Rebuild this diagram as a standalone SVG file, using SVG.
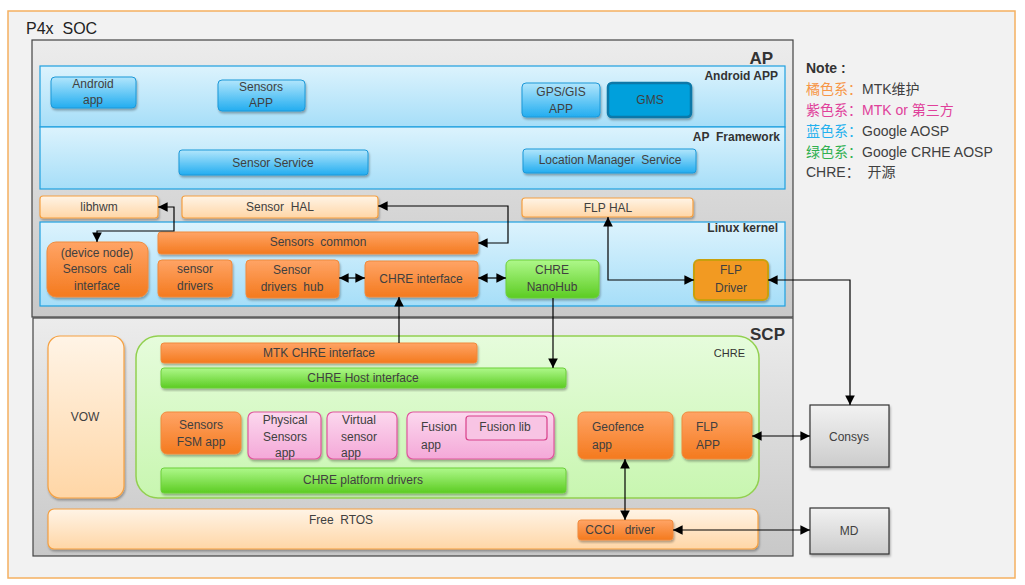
<svg xmlns="http://www.w3.org/2000/svg" width="1025" height="585" viewBox="0 0 1025 585" xml:space="preserve">
<defs>
<linearGradient id="gGray" x1="0" y1="0" x2="0" y2="1"><stop offset="0" stop-color="#ececec"/><stop offset="1" stop-color="#c8c8c8"/></linearGradient>
<linearGradient id="gBand" x1="0" y1="0" x2="0" y2="1"><stop offset="0" stop-color="#dcf3fd"/><stop offset="1" stop-color="#a6def8"/></linearGradient>
<linearGradient id="gBlue" x1="0" y1="0" x2="0" y2="1"><stop offset="0" stop-color="#b2e6fc"/><stop offset="1" stop-color="#22adf0"/></linearGradient>
<linearGradient id="gOr" x1="0" y1="0" x2="0" y2="1"><stop offset="0" stop-color="#ffa466"/><stop offset="1" stop-color="#f47a1e"/></linearGradient>
<linearGradient id="gLOr" x1="0" y1="0" x2="0" y2="1"><stop offset="0" stop-color="#fff4e6"/><stop offset="1" stop-color="#ffd6a6"/></linearGradient>
<linearGradient id="gGr" x1="0" y1="0" x2="0" y2="1"><stop offset="0" stop-color="#aef88a"/><stop offset="1" stop-color="#5ccc22"/></linearGradient>
<linearGradient id="gLGr" x1="0" y1="0" x2="0" y2="1"><stop offset="0" stop-color="#e6fcdc"/><stop offset="1" stop-color="#c8f6b0"/></linearGradient>
<linearGradient id="gPk" x1="0" y1="0" x2="0" y2="1"><stop offset="0" stop-color="#fcd8ee"/><stop offset="1" stop-color="#f4a8d8"/></linearGradient>
<linearGradient id="gBox" x1="0" y1="0" x2="0" y2="1"><stop offset="0" stop-color="#f2f2f2"/><stop offset="1" stop-color="#cccccc"/></linearGradient>
<filter id="sh" x="-10%" y="-10%" width="120%" height="130%"><feDropShadow dx="1" dy="2" stdDeviation="1.2" flood-color="#000" flood-opacity="0.3"/></filter>
<marker id="ah" viewBox="0 0 10 10" refX="10" refY="5" markerWidth="8" markerHeight="8" orient="auto-start-reverse"><path d="M0,0 L10,5 L0,10 z" fill="#000"/></marker>
<style>
text{font-family:"Liberation Sans","Noto Sans CJK SC",sans-serif;font-size:12px;fill:#404040;text-anchor:middle;white-space:pre}
.lbl{font-weight:bold;text-anchor:end;fill:#333}
.band{fill:url(#gBand);stroke:#1ea0e0;stroke-width:1.2}
.blue{fill:url(#gBlue);stroke:#1c98d8;stroke-width:1;filter:url(#sh)}
.or{fill:url(#gOr);stroke:#f08a3c;stroke-width:1;filter:url(#sh)}
.lor{fill:url(#gLOr);stroke:#f5a040;stroke-width:1.2;filter:url(#sh)}
.gr{fill:url(#gGr);stroke:#6ccf3a;stroke-width:1;filter:url(#sh)}
.pk{fill:url(#gPk);stroke:#e0559e;stroke-width:1.2;filter:url(#sh)}
.gray{fill:url(#gBox);stroke:#333;stroke-width:1.2;filter:url(#sh)}
.c{fill:none;stroke:#000;stroke-width:1.2}
.note{text-anchor:start;font-size:14px}
</style>
</defs>
<rect x="0" y="0" width="1025" height="585" fill="#fff"/>
<g id="soc"><rect x="8" y="11" width="1007" height="567" fill="#f2f2f2" stroke="#f5b060" stroke-width="1.5"/><text x="26" y="34" style="text-anchor:start;font-size:16px;fill:#222">P4x  SOC</text></g>
<g id="ap"><rect x="32" y="40" width="761" height="277" fill="url(#gGray)" stroke="#444" stroke-width="1.2"/><text x="773" y="64" class="lbl" style="font-size:17px">AP</text></g>
<g id="android-app-band"><rect x="40" y="66" width="745" height="61" class="band"/><text x="778" y="80" class="lbl">Android APP</text></g>
<g id="ap-fw-band"><rect x="40" y="127" width="745" height="62" class="band"/><text x="780" y="141" class="lbl">AP  Framework</text></g>
<g id="android-app"><rect x="51" y="77" width="85" height="31" rx="4" class="blue"/><text x="93" y="88">Android</text><text x="93" y="104">app</text></g>
<g id="sensors-app"><rect x="218" y="80" width="87" height="31" rx="4" class="blue"/><text x="261" y="91">Sensors</text><text x="261" y="107">APP</text></g>
<g id="gps-app"><rect x="522" y="83" width="78" height="34" rx="4" class="blue"/><text x="561" y="96">GPS/GIS</text><text x="561" y="113">APP</text></g>
<g id="gms"><rect x="608" y="83" width="83" height="34" rx="4" fill="#00a0dc" stroke="#0878a8" stroke-width="2.5" filter="url(#sh)"/><text x="650" y="104">GMS</text></g>
<g id="sensor-service"><rect x="179" y="150" width="189" height="25" rx="3" class="blue"/><text x="273" y="167">Sensor Service</text></g>
<g id="lms"><rect x="523" y="149" width="173" height="24" rx="3" class="blue"/><text x="610" y="164">Location Manager  Service</text></g>
<g id="libhwm"><rect x="40" y="196" width="118" height="22" rx="3" class="lor"/><text x="99" y="211">libhwm</text></g>
<g id="sensor-hal"><rect x="182" y="196" width="196" height="22" rx="3" class="lor"/><text x="280" y="211">Sensor  HAL</text></g>
<g id="flp-hal"><rect x="522" y="198" width="171" height="19" rx="3" class="lor"/><text x="608" y="212">FLP HAL</text></g>
<g id="kernel-band"><rect x="40" y="222" width="745" height="84" class="band"/><text x="778" y="232" class="lbl">Linux kernel</text></g>
<g id="cali"><rect x="47" y="242" width="101" height="55" rx="9" class="or"/><text x="97" y="257">(device node)</text><text x="97" y="273">Sensors  cali</text><text x="97" y="290">interface</text></g>
<g id="sensors-common"><rect x="158" y="232" width="320" height="22" rx="3" class="or"/><text x="318" y="246">Sensors  common</text></g>
<g id="sensor-drivers"><rect x="158" y="260" width="74" height="37" rx="4" class="or"/><text x="195" y="273">sensor</text><text x="195" y="290">drivers</text></g>
<g id="sdh"><rect x="246" y="260" width="93" height="38" rx="4" class="or"/><text x="292" y="274">Sensor</text><text x="292" y="291">drivers  hub</text></g>
<g id="chre-if"><rect x="365" y="261" width="113" height="36" rx="4" class="or"/><text x="421" y="283">CHRE interface</text></g>
<g id="nanohub"><rect x="506" y="260" width="93" height="38" rx="5" class="gr"/><text x="552" y="274">CHRE</text><text x="552" y="291">NanoHub</text></g>
<g id="flp-driver"><rect x="694" y="260" width="74" height="40" rx="5" fill="#f29a22" stroke="#c8a010" stroke-width="2" filter="url(#sh)"/><text x="731" y="274">FLP</text><text x="731" y="292">Driver</text></g>
<g id="scp"><rect x="33" y="318" width="760" height="238" fill="url(#gGray)" stroke="#444" stroke-width="1.2"/><text x="785" y="340" class="lbl" style="font-size:17px">SCP</text></g>
<g id="chre"><rect x="136" y="336" width="623" height="162" rx="22" fill="url(#gLGr)" stroke="#92d050" stroke-width="1.5"/><text x="745" y="357" class="lbl" style="font-weight:normal;font-size:11px">CHRE</text></g>
<g id="vow"><rect x="48" y="336" width="76" height="162" rx="12" class="lor"/><text x="85" y="421">VOW</text></g>
<g id="mtk-chre-if"><rect x="161" y="343" width="316" height="20" rx="3" class="or"/><text x="319" y="357">MTK CHRE interface</text></g>
<g id="chre-host-if"><rect x="161" y="368" width="405" height="20" rx="3" class="gr"/><text x="363" y="382">CHRE Host interface</text></g>
<g id="fsm"><rect x="161" y="412" width="80" height="42" rx="6" class="or"/><text x="201" y="429">Sensors</text><text x="201" y="446">FSM app</text></g>
<g id="phys"><rect x="248" y="412" width="73" height="47" rx="6" class="pk"/><text x="285" y="424">Physical</text><text x="285" y="441">Sensors</text><text x="285" y="457">app</text></g>
<g id="virt"><rect x="327" y="412" width="70" height="47" rx="6" class="pk"/><text x="359" y="424">Virtual</text><text x="359" y="441">sensor</text><text x="351" y="457">app</text></g>
<g id="fusion"><rect x="407" y="412" width="147" height="47" rx="6" class="pk"/><text x="421" y="431" style="text-anchor:start">Fusion</text><text x="421" y="449" style="text-anchor:start">app</text></g>
<g id="fusion-lib"><rect x="466" y="416" width="81" height="24" rx="3" fill="#f8c4e4" stroke="#d8408a" stroke-width="1.2"/><text x="505" y="431">Fusion lib</text></g>
<g id="geofence"><rect x="578" y="412" width="95" height="47" rx="6" class="or"/><text x="592" y="431" style="text-anchor:start">Geofence</text><text x="592" y="449" style="text-anchor:start">app</text></g>
<g id="flp-app"><rect x="682" y="412" width="70" height="47" rx="6" class="or"/><text x="696" y="431" style="text-anchor:start">FLP</text><text x="696" y="449" style="text-anchor:start">APP</text></g>
<g id="chre-pd"><rect x="161" y="468" width="405" height="25" rx="3" class="gr"/><text x="363" y="484">CHRE platform drivers</text></g>
<g id="rtos"><rect x="48" y="509" width="710" height="40" rx="6" class="lor"/><text x="341" y="524">Free  RTOS</text></g>
<g id="ccci"><rect x="578" y="520" width="95" height="20" rx="3" class="or"/><text x="620" y="534">CCCI   driver</text></g>
<g id="consys"><rect x="810" y="405" width="79" height="62" class="gray"/><text x="849" y="441">Consys</text></g>
<g id="md"><rect x="810" y="508" width="79" height="46" class="gray"/><text x="849" y="535">MD</text></g>
<g id="note">
<text x="806" y="73" class="note" style="font-weight:bold;fill:#333">Note :</text>
<text x="806" y="94" class="note"><tspan fill="#f79646">橘色系：</tspan>MTK维护</text>
<text x="806" y="115" class="note" style="fill:#e0409a">紫色系：MTK or 第三方</text>
<text x="806" y="136" class="note"><tspan fill="#22b0ee">蓝色系：</tspan>Google AOSP</text>
<text x="806" y="157" class="note"><tspan fill="#30b050">绿色系：</tspan>Google CRHE AOSP</text>
<text x="806" y="177" class="note">CHRE：  开源</text>
</g>
<g id="connectors">
<path class="c" d="M158,207 H174 V231 H97 V242" marker-start="url(#ah)" marker-end="url(#ah)"/>
<path class="c" d="M378,206 H508 V243 H478" marker-start="url(#ah)" marker-end="url(#ah)"/>
<path class="c" d="M339,278 H365" marker-start="url(#ah)" marker-end="url(#ah)"/>
<path class="c" d="M478,278 H506" marker-start="url(#ah)" marker-end="url(#ah)"/>
<path class="c" d="M399,343 V297" marker-end="url(#ah)"/>
<path class="c" d="M553,298 V368" marker-end="url(#ah)"/>
<path class="c" d="M608,217 V280 H694" marker-start="url(#ah)" marker-end="url(#ah)"/>
<path class="c" d="M768,280 H850 V405" marker-start="url(#ah)" marker-end="url(#ah)"/>
<path class="c" d="M625,459 V520" stroke="#333" marker-start="url(#ah)" marker-end="url(#ah)"/>
<path class="c" d="M752,436 H810" marker-start="url(#ah)" marker-end="url(#ah)"/>
<path class="c" d="M673,530 H810" marker-start="url(#ah)" marker-end="url(#ah)"/>
</g>
</svg>
